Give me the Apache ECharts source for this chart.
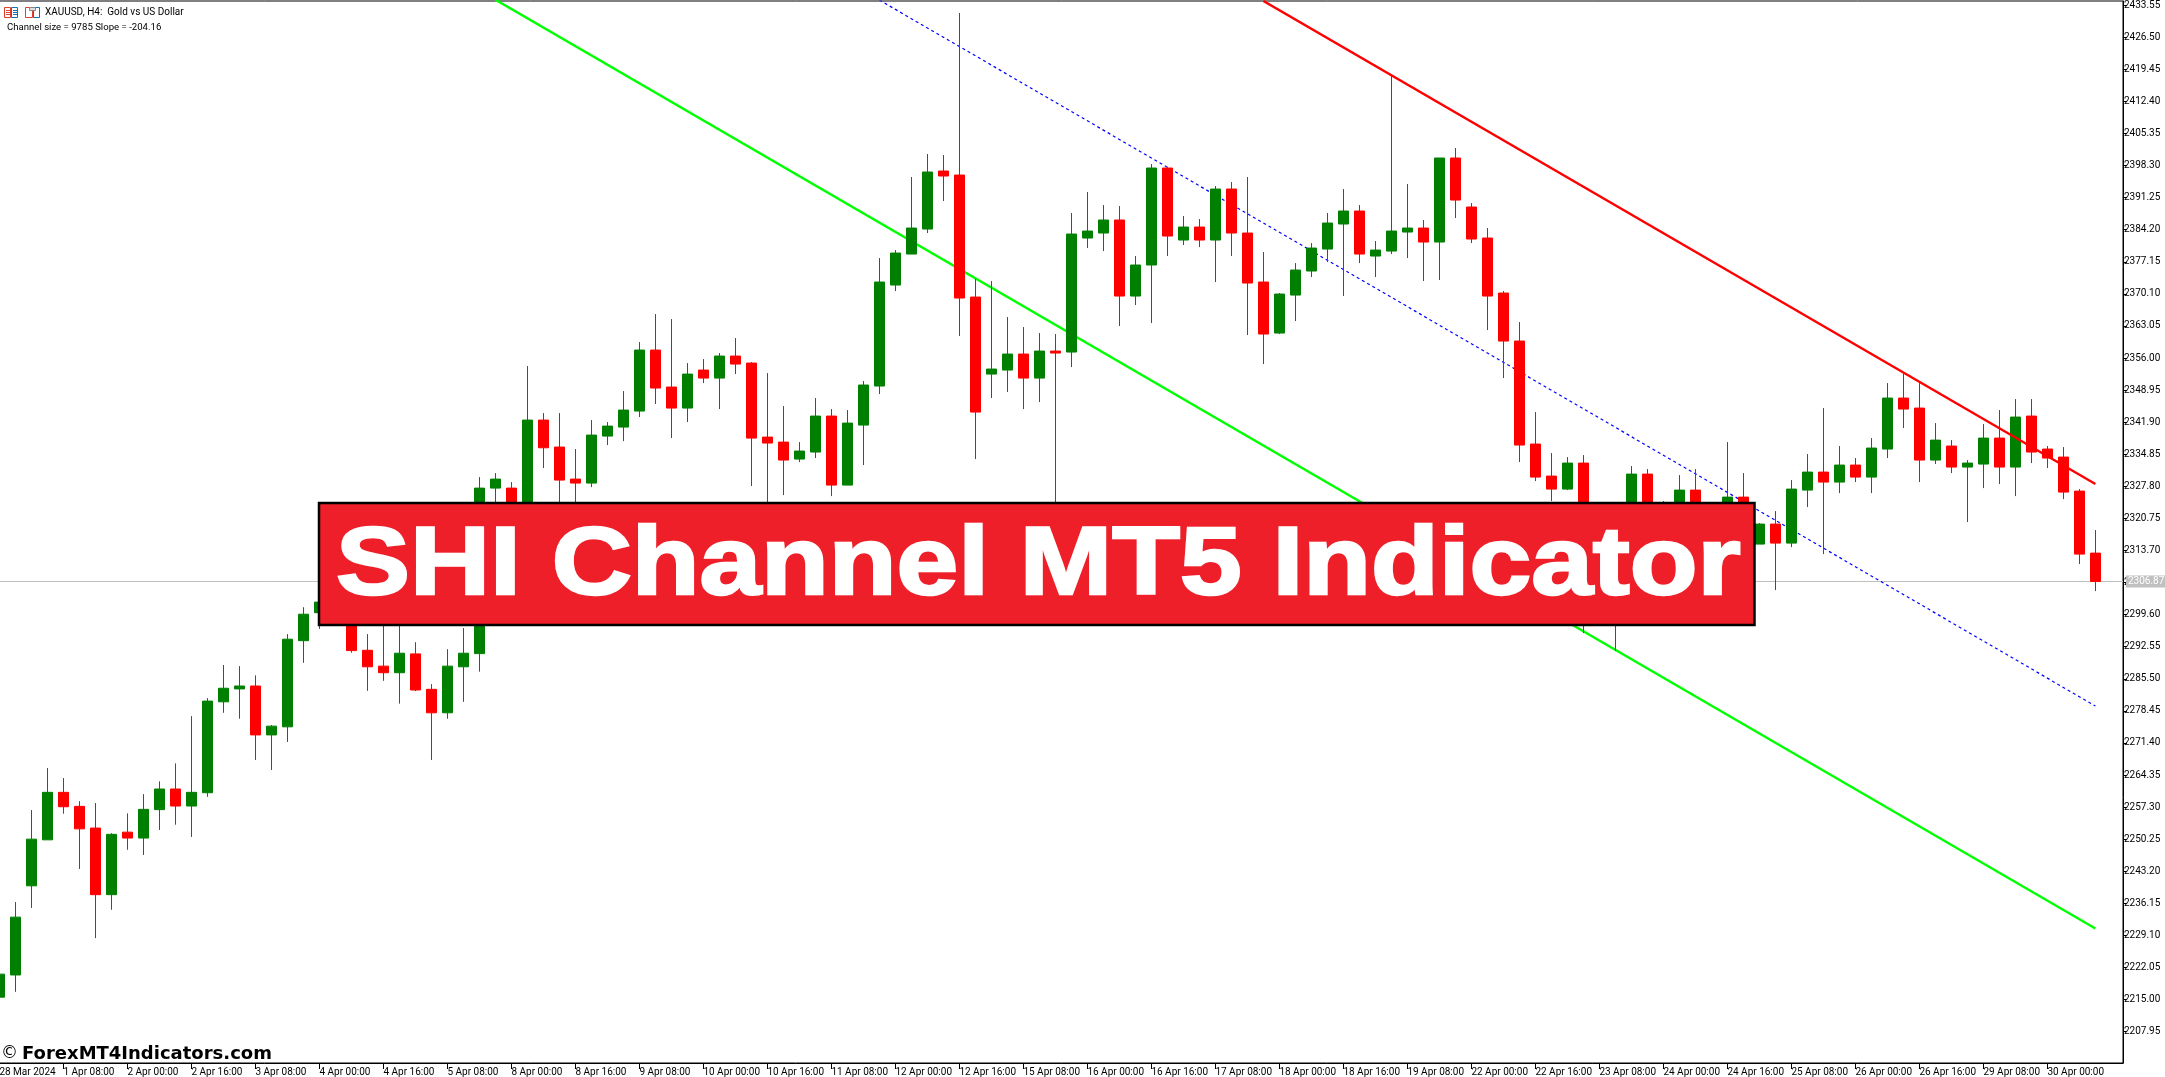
<!DOCTYPE html>
<html>
<head>
<meta charset="utf-8">
<style>html,body{margin:0;padding:0;background:#fff;overflow:hidden}#c{width:2165px;height:1077px}</style>
<script src="https://cdn.jsdelivr.net/npm/echarts@6/dist/echarts.min.js"></script>
</head>
<body>
<div id="c"></div>
<script>
const opens = [2215.52,2220.40,2239.99,2250.10,2260.54,2257.46,2252.69,2238.05,2251.79,2250.49,
2256.74,2261.27,2257.53,2260.45,2280.43,2283.27,2283.91,2273.16,2274.94,2293.87,
2300.02,2302.35,2308.29,2291.76,2288.28,2286.83,2290.97,2283.18,2278.02,2288.13,
2291.03,2327.41,2327.41,2323.68,2342.36,2336.43,2329.39,2328.51,2338.84,2340.82,
2344.34,2357.75,2349.62,2345.00,2353.35,2351.59,2356.43,2354.89,2338.62,2337.52,
2333.79,2335.33,2343.24,2328.07,2341.26,2349.84,2372.04,2378.85,2384.35,2397.10,
2396.22,2369.40,2352.47,2353.35,2356.87,2351.59,2357.53,2357.31,2382.37,2383.47,
2386.33,2369.62,2376.44,2397.76,2381.93,2384.79,2381.93,2393.14,2383.47,2372.70,
2361.49,2369.84,2375.12,2379.95,2385.45,2388.31,2378.41,2379.51,2383.69,2384.57,
2381.49,2399.96,2389.19,2382.37,2370.28,2359.73,2337.09,2330.05,2327.19,2332.91,
2315.98,2308.29,2319.94,2330.49,2322.58,2319.28,2326.97,2318.18,2315.98,2325.43,
2315.10,2319.50,2315.32,2326.97,2330.93,2328.73,2332.47,2329.83,2335.99,2347.20,
2345.00,2333.57,2336.65,2332.03,2332.69,2338.40,2332.03,2343.24,2335.99,2334.23,
2326.75,2313.12];
const closes = [2220.58,2233.11,2250.25,2260.54,2257.37,2252.51,2238.05,2251.31,2250.49,2256.80,
2261.27,2257.53,2260.54,2280.59,2283.42,2283.91,2273.16,2275.09,2294.20,2299.69,
2302.35,2309.39,2291.69,2288.13,2286.83,2291.12,2283.03,2278.02,2288.28,2291.12,
2327.41,2329.39,2323.68,2342.36,2336.27,2329.17,2328.51,2339.06,2341.04,2344.56,
2357.75,2349.40,2345.00,2352.47,2351.59,2356.43,2354.67,2338.40,2337.31,2333.57,
2335.55,2343.24,2328.07,2341.70,2350.06,2372.70,2379.07,2384.57,2396.88,2396.00,
2369.18,2344.12,2353.57,2356.87,2351.59,2357.53,2357.09,2383.25,2383.91,2386.33,
2369.62,2376.44,2397.76,2382.81,2384.79,2381.93,2393.14,2383.47,2372.48,2361.27,
2370.06,2375.34,2380.17,2385.67,2388.31,2378.85,2379.73,2383.91,2384.57,2381.49,
2399.96,2390.72,2382.15,2369.62,2359.73,2336.87,2329.83,2327.19,2332.91,2315.98,
2308.29,2320.38,2330.49,2322.58,2319.28,2326.97,2318.18,2321.48,2325.43,2315.10,
2319.50,2315.32,2327.19,2330.93,2328.73,2332.47,2329.83,2336.21,2347.20,2344.78,
2333.57,2337.96,2332.03,2332.91,2338.40,2332.03,2343.02,2335.33,2334.01,2326.53,
2312.90,2306.87];
const lows = [2213.76,2216.69,2235.13,2250.10,2255.84,2243.70,2228.49,2234.73,2247.92,2246.78,
2252.27,2253.42,2250.74,2259.55,2278.02,2276.72,2267.66,2265.46,2271.62,2289.01,
2296.46,2300.59,2291.21,2282.85,2285.05,2280.04,2282.79,2267.66,2276.72,2280.43,
2287.07,2320.38,2318.18,2322.14,2331.81,2320.38,2321.48,2327.63,2336.87,2337.74,
2343.02,2345.88,2338.40,2341.92,2350.49,2344.78,2352.47,2327.85,2315.98,2325.87,
2333.13,2334.01,2325.65,2328.07,2332.47,2348.08,2370.72,2378.85,2383.47,2390.50,
2360.83,2333.79,2347.20,2348.52,2344.78,2346.32,2311.59,2354.01,2380.17,2379.51,
2363.03,2367.64,2363.68,2378.41,2380.83,2380.39,2372.70,2378.41,2361.05,2354.67,
2361.27,2364.12,2373.80,2377.09,2369.62,2376.87,2373.80,2378.85,2377.97,2372.92,
2373.14,2386.77,2381.27,2362.15,2351.59,2333.13,2328.95,2324.56,2326.97,2295.54,
2304.99,2291.65,2318.18,2315.98,2311.59,2317.08,2312.68,2313.78,2312.68,2311.59,
2315.10,2304.99,2314.44,2323.24,2312.90,2326.31,2328.73,2326.31,2334.01,2340.60,
2328.73,2332.69,2330.71,2319.94,2327.41,2328.29,2325.65,2332.91,2331.81,2324.99,
2310.71,2304.77];
const highs = [2221.45,2236.42,2256.65,2265.88,2263.68,2258.61,2258.19,2251.55,2255.92,2260.14,
2262.96,2266.91,2277.29,2281.25,2288.53,2288.28,2286.26,2275.33,2295.32,2301.23,
2304.99,2311.59,2310.49,2295.32,2299.49,2300.59,2293.54,2284.33,2292.00,2296.64,
2329.83,2330.71,2328.73,2354.23,2343.90,2343.90,2335.99,2342.36,2341.92,2348.74,
2359.51,2365.66,2364.56,2354.89,2355.77,2357.09,2360.39,2355.11,2352.69,2345.44,
2337.52,2347.20,2344.78,2344.56,2350.94,2377.97,2379.73,2395.78,2400.84,2400.62,
2431.83,2373.36,2372.92,2365.00,2362.81,2361.49,2361.27,2387.87,2392.48,2389.62,
2389.40,2378.41,2398.64,2397.98,2387.21,2386.55,2393.80,2394.68,2395.78,2379.29,
2370.28,2376.87,2381.27,2387.87,2393.14,2389.62,2381.71,2418.20,2394.24,2386.33,
2399.96,2402.16,2390.06,2384.57,2370.72,2363.90,2344.12,2335.11,2334.23,2334.67,
2318.18,2322.58,2332.25,2331.59,2324.56,2330.27,2331.59,2322.58,2337.52,2330.71,
2319.72,2322.36,2329.17,2334.89,2345.00,2336.65,2334.01,2338.40,2350.49,2352.69,
2350.49,2341.70,2337.96,2333.57,2341.48,2344.56,2346.98,2346.98,2336.65,2336.43,
2327.19,2318.18];
const timeLabels = ['28 Mar 2024','1 Apr 08:00','2 Apr 00:00','2 Apr 16:00','3 Apr 08:00','4 Apr 00:00','4 Apr 16:00','5 Apr 08:00','8 Apr 00:00','8 Apr 16:00','9 Apr 08:00','10 Apr 00:00','10 Apr 16:00','11 Apr 08:00','12 Apr 00:00','12 Apr 16:00','15 Apr 08:00','16 Apr 00:00','16 Apr 16:00','17 Apr 08:00','18 Apr 00:00','18 Apr 16:00','19 Apr 08:00','22 Apr 00:00','22 Apr 16:00','23 Apr 08:00','24 Apr 00:00','24 Apr 16:00','25 Apr 08:00','26 Apr 00:00','26 Apr 16:00','29 Apr 08:00','30 Apr 00:00'];
const priceLabels = [2433.55,2426.50,2419.45,2412.40,2405.35,2398.30,2391.25,2384.20,2377.15,2370.10,2363.05,2356.00,2348.95,2341.90,2334.85,2327.80,2320.75,2313.70,2306.65,2299.60,2292.55,2285.50,2278.45,2271.40,2264.35,2257.30,2250.25,2243.20,2236.15,2229.10,2222.05,2215.00,2207.95];
const upperLine = [[79,2434.48],[131,2328.32]];
const middleLine = [[55,2434.67],[131,2279.51]];
const lowerLine = [[31,2434.76],[131,2230.60]];
const bidPrice = 2306.87;
const titleLine = 'XAUUSD, H4:  Gold vs US Dollar';
const infoLine = 'Channel size = 9785 Slope = -204.16';
const watermark = 'ForexMT4Indicators.com';
const bannerText = 'SHI Channel MT5 Indicator';

const candles = opens.map((o, i) => [i, o, closes[i], lows[i], highs[i]]);
const axisFont = {fontFamily: 'Roboto', fontSize: 10, color: '#000'};
const chart = echarts.init(document.getElementById('c'), null, {renderer: 'canvas'});
chart.setOption({
  animation: false,
  backgroundColor: '#fff',
  grid: {left: -0.6, top: 1, width: 2123.6, height: 1062, show: true, borderColor: '#000', borderWidth: 1, containLabel: false, outerBoundsMode: 'none'},
  xAxis: {
    type: 'value', min: 0, max: 132.725, splitLine: {show: false},
    axisLine: {show: true, onZero: false, lineStyle: {color: '#000', width: 1}},
    axisTick: {show: true, length: 6, inside: false, lineStyle: {color: '#000'}, customValues: timeLabels.map((_, k) => k * 4)},
    axisLabel: Object.assign({show: true, margin: 4.5, align: 'left', verticalAlign: 'top', hideOverlap: false,
      customValues: timeLabels.map((_, k) => k * 4),
      formatter: v => timeLabels[Math.round(v / 4)] || ''}, axisFont)
  },
  yAxis: {
    type: 'value', position: 'right', min: 2201.05, max: 2434.47, scale: true, splitLine: {show: false},
    axisLine: {show: true, onZero: false, lineStyle: {color: '#000', width: 1}},
    axisTick: {show: true, length: 4, lineStyle: {color: '#000'}, customValues: priceLabels},
    axisLabel: Object.assign({show: true, margin: 1, customValues: priceLabels, formatter: v => v.toFixed(2)}, axisFont)
  },
  series: [
    {type: 'candlestick', name: 'XAUUSD', data: candles, encode: {x: 0, y: [1, 2, 3, 4]}, barWidth: 10, clip: true, z: 3,
      itemStyle: {color: '#008000', color0: '#ff0000', borderColor: '#008000', borderColor0: '#ff0000', borderWidth: 1},
      markLine: {silent: true, symbol: 'none', animation: false, z: 1,
        lineStyle: {color: '#c0c0c0', width: 1, type: 'solid'},
        label: {position: 'end', distance: 3, color: '#fff', backgroundColor: '#c0c0c0', fontFamily: 'Roboto', fontSize: 10, padding: [1, 2, 1, 2], formatter: bidPrice.toFixed(2)},
        data: [{yAxis: bidPrice}]}},
    {type: 'line', name: 'upper', data: upperLine, showSymbol: false, symbol: 'none', z: 4, clip: true, lineStyle: {color: '#ff0000', width: 2.4}},
    {type: 'line', name: 'middle', data: middleLine, showSymbol: false, symbol: 'none', z: 2, clip: true, lineStyle: {color: '#0000ff', width: 1.2, type: [3, 3]}},
    {type: 'line', name: 'lower', data: lowerLine, showSymbol: false, symbol: 'none', z: 2, clip: true, lineStyle: {color: '#00ff00', width: 2.4}}
  ],
  graphic: [
    {type: 'rect', z: 900, shape: {x: 4.5, y: 7.5, width: 6, height: 10}, style: {fill: '#fff', stroke: '#e04030', lineWidth: 1}},
    {type: 'rect', z: 900, shape: {x: 11.5, y: 7.5, width: 6, height: 10}, style: {fill: '#fff', stroke: '#1070b0', lineWidth: 1}},
    {type: 'rect', z: 901, shape: {x: 6, y: 10, width: 4, height: 1}, style: {fill: '#e04030'}},
    {type: 'rect', z: 901, shape: {x: 6, y: 12, width: 4, height: 1}, style: {fill: '#e04030'}},
    {type: 'rect', z: 901, shape: {x: 6, y: 14, width: 4, height: 1}, style: {fill: '#e04030'}},
    {type: 'rect', z: 901, shape: {x: 13, y: 10, width: 4, height: 1}, style: {fill: '#1070b0'}},
    {type: 'rect', z: 901, shape: {x: 13, y: 12, width: 4, height: 1}, style: {fill: '#1070b0'}},
    {type: 'rect', z: 901, shape: {x: 13, y: 14, width: 4, height: 1}, style: {fill: '#1070b0'}},
    {type: 'rect', z: 900, shape: {x: 25.5, y: 7.5, width: 7, height: 10}, style: {fill: '#fff', stroke: '#e04030', lineWidth: 1}},
    {type: 'rect', z: 900, shape: {x: 33.5, y: 7.5, width: 6, height: 10}, style: {fill: '#fff', stroke: '#1070b0', lineWidth: 1}},
    {type: 'rect', z: 901, shape: {x: 29.5, y: 7.5, width: 6, height: 3}, style: {fill: '#ddd', stroke: '#888', lineWidth: 1}},
    {type: 'text', z: 900, style: {x: 45, y: 12.5, text: titleLine, font: '10px Roboto', fill: '#000', verticalAlign: 'middle'}},
    {type: 'text', z: 900, style: {x: 7, y: 27.5, text: infoLine, font: '9.6px Roboto', fill: '#000', verticalAlign: 'middle'}},
    {type: 'text', z: 900, style: {x: 1, y: 1054, text: '©', font: '17px "DejaVu Sans"', fill: '#000', verticalAlign: 'middle'}},
    {type: 'text', z: 900, style: {x: 22, y: 1054, text: watermark, font: 'bold 18px "DejaVu Sans"', fill: '#000', verticalAlign: 'middle'}},
    {type: 'rect', z: 1000, shape: {x: 319, y: 503, width: 1435.5, height: 122}, style: {fill: '#ee1f28', stroke: '#000', lineWidth: 2.5}},
    {type: 'text', z: 1001, x: 336, y: 567.5, scaleX: 1.155, style: {x: 0, y: 0, text: bannerText, font: 'bold 96px "Liberation Sans"', fill: '#fff', stroke: '#fff', lineWidth: 2.5, verticalAlign: 'middle'}}
  ]
});
</script>
</body>
</html>
